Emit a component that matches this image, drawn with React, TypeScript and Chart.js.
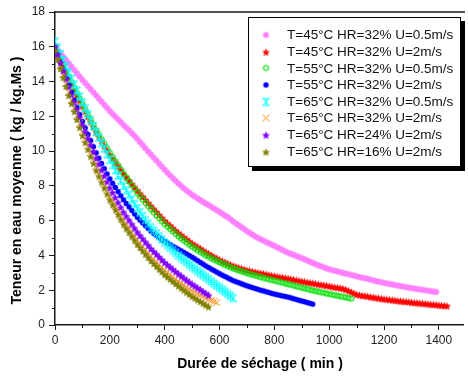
import React, { useEffect, useRef } from "react";
import { Chart, registerables } from "chart.js";

Chart.register(...registerables);

// sampling interval of every series (min)
const STEP_MIN = 10;

const X_TICK_LABEL_EVERY = 200;
const Y_TICK_LABEL_EVERY = 2;

const LABELS = [
  "T=45°C HR=32% U=0.5m/s",
  "T=45°C HR=32% U=2m/s",
  "T=55°C HR=32% U=0.5m/s",
  "T=55°C HR=32% U=2m/s",
  "T=65°C HR=32% U=0.5m/s",
  "T=65°C HR=32% U=2m/s",
  "T=65°C HR=24% U=2m/s",
  "T=65°C HR=16% U=2m/s",
];

const t45_hr32_u05 = [
  16.0, 15.81, 15.62, 15.43, 15.24, 15.05, 14.86, 14.67, 14.48, 14.29,
  14.1, 13.92, 13.74, 13.56, 13.38, 13.2, 13.02, 12.84, 12.66, 12.48,
  12.3, 12.14, 11.98, 11.82, 11.66, 11.5, 11.35, 11.2, 11.03, 10.87,
  10.7, 10.52, 10.34, 10.16, 9.98, 9.8, 9.62, 9.45, 9.27, 9.1,
  8.93, 8.76, 8.6, 8.44, 8.29, 8.14, 8.0, 7.86, 7.73, 7.61,
  7.49, 7.38, 7.28, 7.18, 7.08, 6.99, 6.9, 6.8, 6.7, 6.6,
  6.5, 6.4, 6.3, 6.2, 6.08, 5.95, 5.84, 5.73, 5.62, 5.51,
  5.4, 5.3, 5.2, 5.1, 5.01, 4.93, 4.85, 4.77, 4.7, 4.62,
  4.55, 4.47, 4.39, 4.31, 4.23, 4.15, 4.09, 4.03, 3.97, 3.91,
  3.85, 3.78, 3.71, 3.64, 3.57, 3.5, 3.44, 3.38, 3.32, 3.26,
  3.2, 3.16, 3.12, 3.08, 3.04, 3.0, 2.96, 2.92, 2.88, 2.84,
  2.8, 2.76, 2.72, 2.69, 2.65, 2.61, 2.57, 2.53, 2.5, 2.46,
  2.42, 2.39, 2.36, 2.33, 2.3, 2.27, 2.24, 2.21, 2.18, 2.15,
  2.12, 2.1, 2.07, 2.05, 2.02, 2.0, 1.97, 1.95, 1.92, 1.9,
];

const t45_hr32_u2 = [
  16.0, 15.63, 15.27, 14.91, 14.55, 14.2, 13.87, 13.55, 13.23, 12.91,
  12.6, 12.3, 11.99, 11.69, 11.4, 11.1, 10.84, 10.58, 10.32, 10.06,
  9.8, 9.58, 9.36, 9.14, 8.92, 8.7, 8.51, 8.32, 8.13, 7.94,
  7.75, 7.57, 7.39, 7.21, 7.03, 6.85, 6.68, 6.51, 6.34, 6.17,
  6.0, 5.86, 5.72, 5.58, 5.44, 5.3, 5.18, 5.06, 4.94, 4.82,
  4.7, 4.6, 4.5, 4.4, 4.3, 4.2, 4.11, 4.02, 3.93, 3.84,
  3.75, 3.68, 3.61, 3.54, 3.47, 3.4, 3.35, 3.3, 3.25, 3.2,
  3.15, 3.12, 3.08, 3.05, 3.01, 2.98, 2.95, 2.92, 2.88, 2.85,
  2.82, 2.79, 2.76, 2.74, 2.71, 2.68, 2.65, 2.62, 2.58, 2.55,
  2.52, 2.49, 2.46, 2.44, 2.41, 2.38, 2.35, 2.32, 2.3, 2.27,
  2.24, 2.21, 2.18, 2.16, 2.13, 2.1, 2.04, 1.97, 1.9, 1.83,
  1.76, 1.73, 1.7, 1.68, 1.65, 1.62, 1.6, 1.57, 1.55, 1.52,
  1.5, 1.48, 1.46, 1.44, 1.42, 1.4, 1.38, 1.36, 1.35, 1.33,
  1.31, 1.29, 1.28, 1.26, 1.25, 1.23, 1.21, 1.2, 1.18, 1.17,
  1.15, 1.13, 1.12, 1.1,
];

const t55_hr32_u05 = [
  16.0, 15.66, 15.32, 14.98, 14.64, 14.3, 13.98, 13.66, 13.34, 13.02,
  12.7, 12.4, 12.1, 11.8, 11.5, 11.2, 10.94, 10.68, 10.42, 10.16,
  9.9, 9.66, 9.42, 9.18, 8.94, 8.7, 8.48, 8.26, 8.04, 7.82,
  7.6, 7.41, 7.22, 7.03, 6.84, 6.65, 6.48, 6.31, 6.14, 5.97,
  5.8, 5.66, 5.52, 5.38, 5.24, 5.1, 4.98, 4.86, 4.74, 4.62,
  4.5, 4.4, 4.3, 4.2, 4.1, 4.0, 3.92, 3.84, 3.76, 3.68,
  3.6, 3.53, 3.46, 3.39, 3.32, 3.25, 3.2, 3.14, 3.09, 3.03,
  2.98, 2.93, 2.89, 2.84, 2.8, 2.75, 2.71, 2.67, 2.63, 2.59,
  2.55, 2.51, 2.47, 2.43, 2.39, 2.35, 2.31, 2.27, 2.23, 2.19,
  2.15, 2.11, 2.07, 2.03, 1.99, 1.95, 1.92, 1.88, 1.85, 1.81,
  1.78, 1.75, 1.72, 1.68, 1.65, 1.62, 1.59, 1.55, 1.52,
];

const t55_hr32_u2 = [
  16.0, 15.55, 15.11, 14.67, 14.23, 13.8, 13.37, 12.95, 12.53, 12.11,
  11.7, 11.33, 10.96, 10.6, 10.25, 9.9, 9.59, 9.29, 8.99, 8.69,
  8.4, 8.15, 7.91, 7.67, 7.43, 7.2, 6.99, 6.79, 6.59, 6.39,
  6.2, 6.03, 5.87, 5.71, 5.55, 5.4, 5.27, 5.15, 5.03, 4.91,
  4.8, 4.71, 4.62, 4.53, 4.44, 4.35, 4.26, 4.17, 4.08, 3.99,
  3.9, 3.8, 3.7, 3.6, 3.5, 3.4, 3.31, 3.22, 3.13, 3.04,
  2.95, 2.87, 2.79, 2.71, 2.63, 2.55, 2.49, 2.43, 2.37, 2.31,
  2.25, 2.2, 2.15, 2.1, 2.05, 2.0, 1.96, 1.91, 1.87, 1.82,
  1.78, 1.74, 1.71, 1.67, 1.64, 1.6, 1.56, 1.51, 1.47, 1.42,
  1.38, 1.34, 1.29, 1.25, 1.2,
];

const t65_hr32_u05 = [
  16.3, 15.94, 15.58, 15.22, 14.86, 14.5, 14.16, 13.82, 13.48, 13.14,
  12.8, 12.46, 12.12, 11.78, 11.44, 11.1, 10.78, 10.46, 10.14, 9.82,
  9.5, 9.2, 8.9, 8.6, 8.3, 8.0, 7.74, 7.48, 7.22, 6.96,
  6.7, 6.48, 6.26, 6.04, 5.82, 5.6, 5.43, 5.26, 5.09, 4.92,
  4.75, 4.6, 4.45, 4.3, 4.15, 4.0, 3.87, 3.74, 3.61, 3.48,
  3.35, 3.23, 3.11, 2.99, 2.87, 2.75, 2.63, 2.51, 2.39, 2.27,
  2.15, 2.03, 1.91, 1.79, 1.67, 1.55,
];

const t65_hr32_u2 = [
  15.9, 15.4, 14.9, 14.4, 13.9, 13.4, 12.95, 12.5, 12.05, 11.6,
  11.15, 10.75, 10.35, 9.95, 9.55, 9.15, 8.81, 8.47, 8.13, 7.79,
  7.45, 7.17, 6.89, 6.61, 6.33, 6.05, 5.82, 5.59, 5.36, 5.13,
  4.9, 4.71, 4.52, 4.33, 4.14, 3.95, 3.79, 3.63, 3.47, 3.31,
  3.15, 3.02, 2.89, 2.76, 2.63, 2.5, 2.39, 2.28, 2.17, 2.06,
  1.95, 1.87, 1.79, 1.71, 1.63, 1.55, 1.49, 1.42, 1.36, 1.3,
];

const t65_hr24_u2 = [
  16.0, 15.54, 15.08, 14.62, 14.16, 13.7, 13.26, 12.82, 12.38, 11.94,
  11.5, 11.12, 10.74, 10.36, 9.98, 9.6, 9.26, 8.92, 8.58, 8.24,
  7.9, 7.62, 7.34, 7.06, 6.78, 6.5, 6.27, 6.04, 5.81, 5.58,
  5.35, 5.16, 4.97, 4.78, 4.59, 4.4, 4.24, 4.08, 3.92, 3.76,
  3.6, 3.47, 3.34, 3.21, 3.08, 2.95, 2.83, 2.71, 2.59, 2.47,
  2.35, 2.25, 2.14, 2.04, 1.93, 1.83, 1.72,
];

const t65_hr16_u2 = [
  15.8, 15.28, 14.76, 14.24, 13.72, 13.2, 12.74, 12.28, 11.82, 11.36,
  10.9, 10.5, 10.1, 9.7, 9.3, 8.9, 8.56, 8.22, 7.88, 7.54,
  7.2, 6.92, 6.64, 6.36, 6.08, 5.8, 5.57, 5.34, 5.11, 4.88,
  4.65, 4.46, 4.27, 4.08, 3.89, 3.7, 3.54, 3.38, 3.22, 3.06,
  2.9, 2.77, 2.64, 2.51, 2.38, 2.25, 2.13, 2.01, 1.89, 1.77,
  1.65, 1.55, 1.45, 1.35, 1.25, 1.15, 1.05,
];

const SERIES = [
  t45_hr32_u05,
  t45_hr32_u2,
  t55_hr32_u05,
  t55_hr32_u2,
  t65_hr32_u05,
  t65_hr32_u2,
  t65_hr24_u2,
  t65_hr16_u2,
];

const X_TITLE = "Durée de séchage ( min )";
const Y_TITLE = "Teneur en eau moyenne ( kg / kg.Ms )";

// ---- styles ----
const MARKER_STYLES = [
  { kind: "disc", color: "#ff80ff", r: 3 },
  { kind: "star", color: "#ff0000", r: 4.2 },
  { kind: "ring", color: "#00e000", r: 2.5 },
  { kind: "disc", color: "#0000ff", r: 2.7 },
  { kind: "hourglass", color: "#00ffff", r: 3.5 },
  { kind: "cross", color: "#ff8000", r: 3.5 },
  { kind: "star", color: "#8000ff", r: 4.2 },
  { kind: "star", color: "#808000", r: 4.2 },
];

const FONT = '"Liberation Sans", Arial, Helvetica, sans-serif';
const AXIS_COLOR = "#1a1a1a";

function makeMarker(st: { kind: string; color: string; r: number }) {
  const s = 11;
  const c = document.createElement("canvas");
  c.width = s;
  c.height = s;
  const g = c.getContext("2d") as CanvasRenderingContext2D;
  const m = s / 2;
  const r = st.r;
  g.fillStyle = st.color;
  g.strokeStyle = st.color;
  if (st.kind === "disc") {
    g.beginPath();
    g.arc(m, m, r, 0, Math.PI * 2);
    g.fill();
  } else if (st.kind === "ring") {
    g.lineWidth = 1.1;
    g.beginPath();
    g.arc(m, m, r, 0, Math.PI * 2);
    g.stroke();
  } else if (st.kind === "star") {
    g.beginPath();
    for (let k = 0; k < 10; k++) {
      const rr = k % 2 === 0 ? r : r * 0.45;
      const a = -Math.PI / 2 + (k * Math.PI) / 5;
      const px = m + rr * Math.cos(a);
      const py = m + 0.5 + rr * Math.sin(a);
      if (k === 0) g.moveTo(px, py);
      else g.lineTo(px, py);
    }
    g.closePath();
    g.fill();
  } else if (st.kind === "hourglass") {
    g.lineWidth = 1;
    g.beginPath();
    g.moveTo(m - r, m - r);
    g.lineTo(m + r, m + r);
    g.moveTo(m + r, m - r);
    g.lineTo(m - r, m + r);
    g.moveTo(m - r, m - r);
    g.lineTo(m + r, m - r);
    g.moveTo(m - r, m + r);
    g.lineTo(m + r, m + r);
    g.moveTo(m, m - r);
    g.lineTo(m, m + r);
    g.stroke();
  } else if (st.kind === "cross") {
    g.lineWidth = 1;
    g.beginPath();
    g.moveTo(m - r, m - r);
    g.lineTo(m + r, m + r);
    g.moveTo(m + r, m - r);
    g.lineTo(m - r, m + r);
    g.stroke();
  }
  return c;
}

export default function App() {
  const ref = useRef<HTMLCanvasElement | null>(null);

  useEffect(() => {
    const canvas = ref.current;
    if (!canvas) return;
    const markers = MARKER_STYLES.map(makeMarker);

    const decorPlugin = {
      id: "decor",
      afterDraw(chart: any) {
        const { ctx, chartArea: a } = chart;
        const xs = chart.scales.x;
        const ys = chart.scales.y;
        ctx.save();
        // top frame line
        ctx.strokeStyle = AXIS_COLOR;
        ctx.lineWidth = 1.5;
        ctx.beginPath();
        ctx.moveTo(a.left, a.top);
        ctx.lineTo(a.right + 2, a.top);
        ctx.stroke();
        // minor ticks
        ctx.lineWidth = 1;
        ctx.beginPath();
        xs.ticks.forEach((t: any) => {
          if (t.value % X_TICK_LABEL_EVERY !== 0) {
            const px = Math.round(xs.getPixelForValue(t.value)) + 0.5;
            ctx.moveTo(px, a.bottom);
            ctx.lineTo(px, a.bottom + 3);
          }
        });
        ys.ticks.forEach((t: any) => {
          if (t.value % Y_TICK_LABEL_EVERY !== 0) {
            const py = Math.round(ys.getPixelForValue(t.value)) + 0.5;
            ctx.moveTo(a.left, py);
            ctx.lineTo(a.left - 3, py);
          }
        });
        ctx.stroke();

        // axis titles
        ctx.fillStyle = "#000";
        ctx.font = `bold 14px ${FONT}`;
        ctx.textAlign = "center";
        ctx.textBaseline = "middle";
        ctx.fillText(X_TITLE, (a.left + a.right) / 2 + 1, 364);
        ctx.save();
        ctx.translate(17, (a.top + a.bottom) / 2 + 12);
        ctx.rotate(-Math.PI / 2);
        ctx.fillText(Y_TITLE, 0, 0);
        ctx.restore();

        // legend box with shadow
        const bx = 248, by = 17, bw = 213, bh = 150;
        ctx.fillStyle = "#000";
        ctx.fillRect(bx + 4, by + 4, bw, bh);
        ctx.fillStyle = "#fff";
        ctx.fillRect(bx, by, bw, bh);
        ctx.strokeStyle = "#000";
        ctx.lineWidth = 1;
        ctx.strokeRect(bx + 0.5, by + 0.5, bw - 1, bh - 1);
        ctx.font = `13.5px ${FONT}`;
        ctx.textAlign = "left";
        ctx.textBaseline = "middle";
        ctx.fillStyle = "#111";
        chart.data.datasets.forEach((ds: any, i: number) => {
          const cy = 35 + i * 16.65;
          const img = markers[i];
          ctx.drawImage(img, 266 - img.width / 2, Math.round(cy) - img.height / 2);
          ctx.fillText(ds.label, 287, cy + 0.5);
        });
        ctx.restore();
      },
    };

    const chart = new Chart(canvas, {
      type: "scatter",
      data: {
        datasets: SERIES.map((vals, i) => ({
          label: LABELS[i],
          data: vals.map((v, k) => ({ x: k * STEP_MIN, y: v })),
          pointStyle: markers[i] as any,
          pointRadius: 4,
          showLine: false,
          order: SERIES.length - i,
        })),
      },
      options: {
        responsive: false,
        animation: false,
        devicePixelRatio: 1,
        events: [],
        layout: { padding: { top: 12, right: 0, bottom: 0, left: 0 } },
        plugins: {
          legend: { display: false },
          tooltip: { enabled: false },
          title: { display: false },
        },
        scales: {
          x: {
            type: "linear",
            min: 0,
            max: 1488,
            afterFit: (s: any) => {
              s.height = 51;
            },
            border: { display: true, color: AXIS_COLOR, width: 1.5 },
            grid: {
              display: true,
              drawOnChartArea: false,
              drawTicks: true,
              tickLength: 5,
              tickWidth: 1,
              tickColor: (c: any) =>
                c.tick && c.tick.value % X_TICK_LABEL_EVERY === 0 ? AXIS_COLOR : "rgba(0,0,0,0)",
            },
            ticks: {
              stepSize: 100,
              includeBounds: false,
              autoSkip: false,
              maxRotation: 0,
              padding: 3,
              color: "#222",
              font: { family: FONT, size: 12 },
              callback: (v: any) => (Number(v) % X_TICK_LABEL_EVERY === 0 ? String(v) : ""),
            },
          },
          y: {
            type: "linear",
            min: 0,
            max: 18,
            afterFit: (s: any) => {
              s.width = 55;
            },
            border: { display: true, color: AXIS_COLOR, width: 1.5 },
            grid: {
              display: true,
              drawOnChartArea: false,
              drawTicks: true,
              tickLength: 6,
              tickWidth: 1,
              tickColor: (c: any) =>
                c.tick && c.tick.value % Y_TICK_LABEL_EVERY === 0 ? AXIS_COLOR : "rgba(0,0,0,0)",
            },
            ticks: {
              stepSize: 1,
              autoSkip: false,
              padding: 4,
              color: "#222",
              font: { family: FONT, size: 12 },
              callback: (v: any) => (Number(v) % Y_TICK_LABEL_EVERY === 0 ? String(v) : ""),
            },
          },
        },
      },
      plugins: [decorPlugin],
    });

    return () => chart.destroy();
  }, []);

  return (
    <div style={{ position: "fixed", left: 0, top: 0, width: 468, height: 376, background: "#fff" }}>
      <canvas ref={ref} width={468} height={376} style={{ display: "block" }} />
    </div>
  );
}
